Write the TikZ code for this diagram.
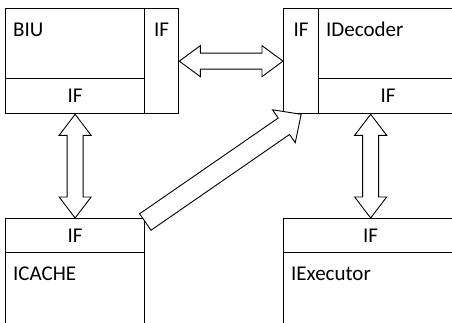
\documentclass[tikz,border=0pt]{standalone}
\usepackage{fontspec}
\setmainfont{Carlito}
\usetikzlibrary{calc}

% Block arrow with heads at both ends:
% #1 start, #2 end, #3 head length, #4 head half-width, #5 shaft half-width
\newcommand\twowayarrow[5]{%
  \coordinate (ua) at ($(#1)!#3!(#2)$);
  \coordinate (ub) at ($(#2)!#3!(#1)$);
  \draw[arrowline] (#1) -- ($(ua)!#4!90:(#2)$) -- ($(ua)!#5!90:(#2)$)
    -- ($(ub)!#5!-90:(#1)$) -- ($(ub)!#4!-90:(#1)$) -- (#2)
    -- ($(ub)!#4!90:(#1)$) -- ($(ub)!#5!90:(#1)$)
    -- ($(ua)!#5!-90:(#2)$) -- ($(ua)!#4!-90:(#2)$) -- cycle;
}
% Block arrow with one head: #1 tail, #2 tip, #3..#5 as above
\newcommand\onewayarrow[5]{%
  \coordinate (ub) at ($(#2)!#3!(#1)$);
  \draw[arrowline] ($(#1)!#5!90:(#2)$) -- ($(ub)!#5!-90:(#1)$)
    -- ($(ub)!#4!-90:(#1)$) -- (#2) -- ($(ub)!#4!90:(#1)$)
    -- ($(ub)!#5!90:(#1)$) -- ($(#1)!#5!-90:(#2)$) -- cycle;
}

\begin{document}
\begin{tikzpicture}[x=1pt, y=-1pt,
  every node/.style={font=\fontsize{21pt}{25pt}\selectfont},
  cell/.style 2 args={draw, line width=1.3pt, rectangle, inner sep=0pt,
    anchor=north west, minimum width=#1pt, minimum height=#2pt},
  titled/.style={label={[anchor=base west, inner sep=0pt, xshift=8pt,
    yshift=-28.5pt]north west:#1}},
  toptext/.style={label={[anchor=base, inner sep=0pt, yshift=-28pt]north:#1}},
  arrowline/.style={draw, fill=white, line width=0.9pt, line join=miter}]

\useasboundingbox (0,0) rectangle (452,322);
\clip (0,0) rectangle (452,322);

% BIU unit
\node[cell={139}{70}, titled=BIU] (biuM) at (5,8) {};
\node[cell={34}{105}, toptext=IF] (biuR) at (144,8) {};
\node[cell={139}{35}] (biuB) at (5,78) {IF};

% IDecoder unit
\node[cell={35}{105}, toptext=IF] (idL) at (283,8) {};
\node[cell={139}{70}, titled=IDecoder] (idM) at (318,8) {};
\node[cell={139}{35}] (idB) at (318,78) {IF};

% ICACHE unit
\node[cell={139}{34}] (icT) at (5,218) {IF};
\node[cell={139}{90}, titled=ICACHE] (icM) at (5,252) {};

% IExecutor unit
\node[cell={174}{34}] (ieT) at (283,218) {IF};
\node[cell={174}{90}, titled=IExecutor] (ieM) at (283,252) {};

% connections between the units
\twowayarrow{biuR.east}{idL.west}{21pt}{15.5pt}{8pt}
\twowayarrow{biuB.south}{icT.north}{21pt}{16pt}{8pt}
\coordinate (rtop) at (ieT.north |- idB.south);
\twowayarrow{rtop}{ieT.north}{21pt}{16pt}{8pt}
\coordinate (dtail) at ($(icT.north east)+(0,4)$);
\onewayarrow{dtail}{idL.south}{21pt}{20pt}{10pt}

\end{tikzpicture}
\end{document}
